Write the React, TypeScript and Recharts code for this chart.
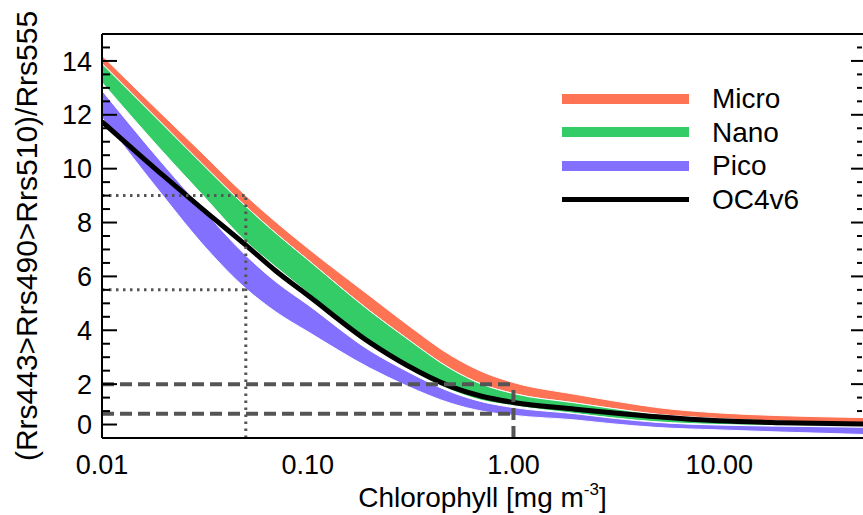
import React from 'react';
import { ComposedChart, Area, Line, XAxis, YAxis, ReferenceLine, Legend } from 'recharts';

// chlorophyll [mg m-3] and band-ratio values
const chl = [0.01, 0.02, 0.03, 0.05, 0.07, 0.1, 0.2, 0.3, 0.5, 0.7, 1, 2, 3, 5, 10, 20, 50];
const microHigh = [14.2, 11.95, 10.65, 9.0, 8.02, 7.05, 5.28, 4.25, 3.05, 2.47, 2.06, 1.62, 1.39, 1.13, 0.93, 0.83, 0.76];
const nanoHigh = [13.9, 11.6, 10.25, 8.6, 7.6, 6.62, 4.72, 3.72, 2.55, 2.0, 1.65, 1.3, 1.1, 0.88, 0.72, 0.62, 0.55];
const nanoLow = [13.2, 10.58, 9.12, 7.3, 6.35, 5.4, 3.5, 2.62, 1.77, 1.4, 1.2, 0.91, 0.75, 0.6, 0.5, 0.46, 0.43];
const picoHigh = [12.9, 10.13, 8.6, 6.78, 5.8, 4.95, 3.25, 2.5, 1.7, 1.35, 1.13, 0.9, 0.74, 0.58, 0.48, 0.44, 0.4];
const picoLow = [11.9, 8.95, 7.3, 5.55, 4.68, 3.95, 2.6, 1.95, 1.28, 1.0, 0.84, 0.67, 0.53, 0.39, 0.3, 0.22, 0.13];
const oc4v6 = [11.75, 9.72, 8.57, 7.16, 6.2, 5.3, 3.55, 2.72, 1.9, 1.55, 1.32, 1.07, 0.94, 0.79, 0.64, 0.57, 0.52];

const xMajor = [0.01, 0.1, 1, 10];
const xMinor = [0.02, 0.03, 0.04, 0.05, 0.06, 0.07, 0.08, 0.09, 0.2, 0.3, 0.4, 0.5, 0.6, 0.7, 0.8, 0.9, 2, 3, 4, 5, 6, 7, 8, 9, 20, 30, 40];
const yTicks = [0.5, 2, 4, 6, 8, 10, 12, 14];
const yTickLabels = ['0', '2', '4', '6', '8', '10', '12', '14'];
const yMinor = [1, 1.5, 2.5, 3, 3.5, 4.5, 5, 5.5, 6.5, 7, 7.5, 8.5, 9, 9.5, 10.5, 11, 11.5, 12.5, 13, 13.5, 14.5];

const legendNames = ['Micro', 'Nano', 'Pico', 'OC4v6'];
const legendColors = ['#ff7355', '#33cc66', '#8470ff', '#000000'];

// guide lines
const dottedChl = 0.05;
const dottedRatios = [9, 5.5];
const dashedChl = 1;
const dashedRatios = [2, 0.9];

const rows = chl.map((c, i) => ({
  chl: c,
  micro: [nanoHigh[i], microHigh[i]],
  nano: [nanoLow[i], nanoHigh[i]],
  pico: [picoLow[i], picoHigh[i]],
  oc4v6: oc4v6[i],
}));

const font = 'Liberation Sans, Arial, Helvetica, sans-serif';
const tickStroke = { stroke: '#000', strokeWidth: 2 };
const axisStroke = { stroke: '#000', strokeWidth: 2 };
const noLabel = () => <g />;

const XTitle = (props: any) => {
  const { x, y, width } = props.viewBox;
  return (
    <text x={x + width / 2} y={y + 69} textAnchor="middle" fontSize={28} fill="#000" fontFamily={font}>
      Chlorophyll [mg m<tspan fontSize={17} dy={-12}>-3</tspan>
      <tspan dy={12}>]</tspan>
    </text>
  );
};

const YTitle = (props: any) => {
  const { x, y, height } = props.viewBox;
  const cx = x + 37;
  const cy = y + height / 2;
  return (
    <text x={cx} y={cy} transform={`rotate(-90, ${cx}, ${cy})`} textAnchor="middle" fontSize={30} fill="#000" fontFamily={font}>
      (Rrs443&gt;Rrs490&gt;Rrs510)/Rrs555
    </text>
  );
};

const renderLegend = () => (
  <div style={{ fontFamily: font }}>
    {legendNames.map((name, i) => (
      <div key={name} style={{ display: 'flex', alignItems: 'center', height: 33.5 }}>
        <div style={{ width: 127, height: i === 3 ? 5 : 10, background: legendColors[i], marginRight: 23 }} />
        <span style={{ fontSize: 28, color: '#000', lineHeight: '33.5px' }}>{name}</span>
      </div>
    ))}
  </div>
);

const App: React.FC = () => {
  return (
    <div style={{ position: 'absolute', left: 0, top: 0, fontFamily: font }}>
      <ComposedChart width={863} height={515} data={rows} margin={{ top: 34, right: 0, bottom: 0, left: 0 }}>
        <XAxis
          xAxisId="x"
          dataKey="chl"
          type="number"
          scale="log"
          domain={[0.01, 50]}
          allowDataOverflow
          ticks={xMajor}
          interval={0}
          tickFormatter={(v: number) => v.toFixed(2)}
          tickLine={false}
          tickSize={9}
          tickMargin={8}
          height={77}
          axisLine={axisStroke}
          tick={{ fill: '#000', fontSize: 27, fontFamily: font }}
          label={XTitle}
        />
        <XAxis xAxisId="xbMaj" type="number" scale="log" domain={[0.01, 50]} allowDataOverflow orientation="bottom" mirror height={1}
          ticks={xMajor} interval={0} tick={noLabel} tickSize={8} axisLine={false} tickLine={tickStroke} />
        <XAxis xAxisId="xbMin" type="number" scale="log" domain={[0.01, 50]} allowDataOverflow orientation="bottom" mirror height={1}
          ticks={xMinor} interval={0} tick={noLabel} tickSize={4} axisLine={false} tickLine={tickStroke} />
        <XAxis xAxisId="xtMaj" type="number" scale="log" domain={[0.01, 50]} allowDataOverflow orientation="top" mirror height={1}
          ticks={xMajor} interval={0} tick={noLabel} tickSize={8} axisLine={axisStroke} tickLine={tickStroke} />
        <XAxis xAxisId="xtMin" type="number" scale="log" domain={[0.01, 50]} allowDataOverflow orientation="top" mirror height={1}
          ticks={xMinor} interval={0} tick={noLabel} tickSize={5} axisLine={false} tickLine={tickStroke} />

        <YAxis
          yAxisId="y"
          type="number"
          domain={[0, 15]}
          allowDataOverflow
          ticks={yTicks}
          interval={0}
          tickFormatter={(_v: number, i: number) => yTickLabels[i]}
          tickLine={false}
          tickSize={2}
          tickMargin={8}
          width={102}
          axisLine={axisStroke}
          tick={{ fill: '#000', fontSize: 27, fontFamily: font }}
          label={YTitle}
        />
        <YAxis yAxisId="ylMaj" type="number" domain={[0, 15]} allowDataOverflow orientation="left" mirror width={1}
          ticks={yTicks} interval={0} tick={noLabel} tickSize={15} axisLine={false} tickLine={tickStroke} />
        <YAxis yAxisId="ylMin" type="number" domain={[0, 15]} allowDataOverflow orientation="left" mirror width={1}
          ticks={yMinor} interval={0} tick={noLabel} tickSize={7} axisLine={false} tickLine={tickStroke} />
        <YAxis yAxisId="yrMaj" type="number" domain={[0, 15]} allowDataOverflow orientation="right" mirror width={1}
          ticks={yTicks} interval={0} tick={noLabel} tickSize={12} axisLine={false} tickLine={tickStroke} />
        <YAxis yAxisId="yrMin" type="number" domain={[0, 15]} allowDataOverflow orientation="right" mirror width={1}
          ticks={yMinor} interval={0} tick={noLabel} tickSize={5} axisLine={false} tickLine={tickStroke} />

        <Area xAxisId="x" yAxisId="y" type="monotone" dataKey="micro" fill={legendColors[0]} fillOpacity={1}
          stroke="#fff" strokeWidth={1} isAnimationActive={false} />
        <Area xAxisId="x" yAxisId="y" type="monotone" dataKey="nano" fill={legendColors[1]} fillOpacity={1}
          stroke="#fff" strokeWidth={1} isAnimationActive={false} />
        <Area xAxisId="x" yAxisId="y" type="monotone" dataKey="pico" fill={legendColors[2]} fillOpacity={1}
          stroke="#fff" strokeWidth={1} isAnimationActive={false} />
        <Line xAxisId="x" yAxisId="y" type="monotone" dataKey="oc4v6" stroke="#000" strokeWidth={5} dot={false}
          activeDot={false} isAnimationActive={false} />

        {dottedRatios.map((r) => (
          <ReferenceLine key={`dh${r}`} xAxisId="x" yAxisId="y" segment={[{ x: 0.01, y: r }, { x: dottedChl, y: r }]}
            stroke="#555" strokeWidth={3} strokeDasharray="2.5 4.5" ifOverflow="visible" />
        ))}
        <ReferenceLine xAxisId="x" yAxisId="y" segment={[{ x: dottedChl, y: 0 }, { x: dottedChl, y: dottedRatios[0] }]}
          stroke="#555" strokeWidth={3} strokeDasharray="2.5 4.5" ifOverflow="visible" />
        {dashedRatios.map((r) => (
          <ReferenceLine key={`ah${r}`} xAxisId="x" yAxisId="y" segment={[{ x: 0.01, y: r }, { x: dashedChl, y: r }]}
            stroke="#555" strokeWidth={4} strokeDasharray="12 6" ifOverflow="visible" />
        ))}
        <ReferenceLine xAxisId="x" yAxisId="y" segment={[{ x: dashedChl, y: 0 }, { x: dashedChl, y: dashedRatios[0] }]}
          stroke="#555" strokeWidth={4} strokeDasharray="12 6" ifOverflow="visible" />

        <Legend layout="vertical" align="center" verticalAlign="middle" content={renderLegend}
          wrapperStyle={{ left: 562, top: 82, width: 280 }} />
      </ComposedChart>
    </div>
  );
};

export default App;
